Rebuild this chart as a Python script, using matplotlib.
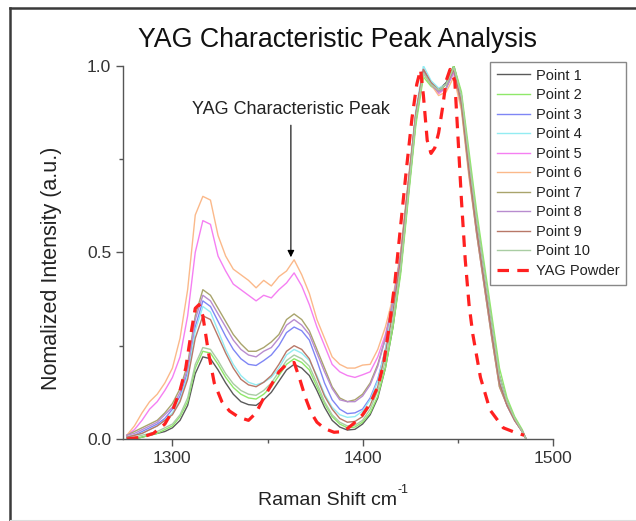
import matplotlib
matplotlib.use("Agg")
import matplotlib.pyplot as plt
from matplotlib.lines import Line2D

plt.rcParams['font.family'] = ['Liberation Sans', 'DejaVu Sans']

# ---------------- data ----------------
shift = [1276, 1280, 1284, 1288, 1292, 1296, 1300, 1304, 1308, 1312, 1316, 1320, 1324, 1328,
         1332, 1336, 1340, 1344, 1348, 1352, 1356, 1360, 1364, 1368, 1372, 1376, 1380, 1384,
         1388, 1392, 1396, 1400, 1404, 1408, 1412, 1416, 1420, 1424, 1428, 1432, 1436, 1440,
         1444, 1448, 1452, 1456, 1460, 1464, 1468, 1472, 1476, 1480, 1484, 1486]

point1 = [0.0, 0.0, 0.005, 0.01, 0.015, 0.02, 0.03, 0.05, 0.09, 0.175, 0.22, 0.215, 0.185, 0.15,
          0.12, 0.10, 0.092, 0.09, 0.105, 0.125, 0.155, 0.185, 0.20, 0.19, 0.17, 0.13, 0.085, 0.05,
          0.032, 0.024, 0.026, 0.04, 0.065, 0.11, 0.19, 0.30, 0.45, 0.65, 0.85, 0.98, 0.95, 0.935,
          0.955, 1.0, 0.92, 0.75, 0.59, 0.45, 0.31, 0.17, 0.10, 0.055, 0.02, 0.0]
point2 = [0.0, 0.0, 0.005, 0.01, 0.015, 0.025, 0.035, 0.06, 0.10, 0.19, 0.235, 0.23, 0.20, 0.165,
          0.138, 0.12, 0.11, 0.107, 0.12, 0.14, 0.17, 0.20, 0.215, 0.205, 0.185, 0.14, 0.095, 0.06,
          0.04, 0.03, 0.032, 0.045, 0.07, 0.115, 0.19, 0.30, 0.44, 0.64, 0.84, 0.97, 0.945, 0.93,
          0.95, 1.0, 0.93, 0.77, 0.61, 0.47, 0.33, 0.19, 0.11, 0.06, 0.025, 0.0]
point3 = [0.005, 0.01, 0.02, 0.03, 0.04, 0.055, 0.08, 0.115, 0.18, 0.30, 0.37, 0.355, 0.315, 0.275,
          0.24, 0.215, 0.20, 0.197, 0.21, 0.225, 0.25, 0.285, 0.30, 0.29, 0.265, 0.21, 0.15, 0.105,
          0.08, 0.068, 0.07, 0.08, 0.11, 0.16, 0.24, 0.35, 0.48, 0.68, 0.87, 0.99, 0.955, 0.935,
          0.95, 0.99, 0.90, 0.72, 0.56, 0.42, 0.28, 0.15, 0.09, 0.05, 0.02, 0.0]
point4 = [0.005, 0.01, 0.015, 0.025, 0.035, 0.05, 0.07, 0.105, 0.17, 0.29, 0.355, 0.34, 0.29, 0.24,
          0.20, 0.17, 0.152, 0.145, 0.152, 0.165, 0.19, 0.225, 0.24, 0.23, 0.21, 0.17, 0.12, 0.085,
          0.065, 0.058, 0.06, 0.075, 0.105, 0.155, 0.24, 0.35, 0.49, 0.69, 0.88, 1.0, 0.96, 0.94,
          0.95, 0.99, 0.90, 0.72, 0.56, 0.42, 0.28, 0.15, 0.09, 0.05, 0.02, 0.0]
point5 = [0.01, 0.025, 0.05, 0.08, 0.10, 0.13, 0.165, 0.22, 0.33, 0.50, 0.585, 0.575, 0.49, 0.45,
          0.415, 0.40, 0.385, 0.37, 0.385, 0.378, 0.40, 0.418, 0.445, 0.41, 0.36, 0.30, 0.25, 0.20,
          0.18, 0.17, 0.165, 0.172, 0.18, 0.22, 0.28, 0.37, 0.49, 0.68, 0.87, 0.99, 0.95, 0.925,
          0.94, 0.98, 0.89, 0.71, 0.55, 0.41, 0.27, 0.14, 0.09, 0.05, 0.02, 0.0]
point6 = [0.01, 0.035, 0.07, 0.10, 0.12, 0.15, 0.19, 0.27, 0.40, 0.60, 0.65, 0.64, 0.545, 0.49,
          0.455, 0.44, 0.425, 0.405, 0.425, 0.41, 0.435, 0.45, 0.48, 0.44, 0.39, 0.32, 0.27, 0.22,
          0.20, 0.19, 0.19, 0.198, 0.20, 0.24, 0.30, 0.38, 0.50, 0.69, 0.87, 0.98, 0.95, 0.92,
          0.93, 0.97, 0.88, 0.70, 0.55, 0.41, 0.27, 0.14, 0.09, 0.05, 0.02, 0.0]
point7 = [0.01, 0.02, 0.03, 0.04, 0.05, 0.07, 0.095, 0.135, 0.20, 0.33, 0.40, 0.385, 0.35, 0.315,
          0.28, 0.255, 0.235, 0.235, 0.245, 0.26, 0.28, 0.32, 0.335, 0.32, 0.29, 0.24, 0.19, 0.14,
          0.11, 0.10, 0.105, 0.12, 0.15, 0.20, 0.27, 0.37, 0.49, 0.68, 0.87, 0.99, 0.95, 0.93,
          0.94, 0.99, 0.89, 0.71, 0.55, 0.41, 0.27, 0.14, 0.09, 0.05, 0.02, 0.0]
point8 = [0.01, 0.015, 0.025, 0.035, 0.045, 0.065, 0.085, 0.125, 0.19, 0.32, 0.385, 0.37, 0.335, 0.30,
          0.265, 0.24, 0.225, 0.22, 0.235, 0.245, 0.27, 0.305, 0.32, 0.305, 0.28, 0.23, 0.18, 0.135,
          0.105, 0.10, 0.10, 0.115, 0.145, 0.195, 0.27, 0.37, 0.49, 0.68, 0.87, 0.985, 0.95, 0.93,
          0.94, 0.985, 0.90, 0.72, 0.56, 0.42, 0.28, 0.15, 0.09, 0.05, 0.02, 0.0]
point9 = [0.005, 0.01, 0.015, 0.025, 0.035, 0.05, 0.065, 0.10, 0.16, 0.27, 0.33, 0.32, 0.275, 0.23,
          0.19, 0.16, 0.145, 0.14, 0.152, 0.17, 0.20, 0.235, 0.25, 0.24, 0.215, 0.165, 0.115, 0.08,
          0.055, 0.045, 0.047, 0.06, 0.09, 0.14, 0.23, 0.34, 0.48, 0.68, 0.87, 0.99, 0.955, 0.935,
          0.95, 0.99, 0.90, 0.72, 0.56, 0.42, 0.28, 0.15, 0.09, 0.05, 0.02, 0.0]
point10 = [0.0, 0.005, 0.01, 0.015, 0.02, 0.03, 0.04, 0.065, 0.11, 0.20, 0.245, 0.24, 0.21, 0.175,
           0.148, 0.13, 0.12, 0.117, 0.13, 0.15, 0.18, 0.21, 0.225, 0.215, 0.195, 0.15, 0.10, 0.065,
           0.045, 0.035, 0.037, 0.05, 0.08, 0.13, 0.21, 0.32, 0.46, 0.66, 0.86, 0.98, 0.95, 0.935,
           0.95, 0.995, 0.92, 0.75, 0.59, 0.45, 0.31, 0.17, 0.10, 0.055, 0.02, 0.0]

powder_shift = [1276, 1284, 1290, 1296, 1300, 1304, 1307, 1310, 1312, 1314, 1316, 1319, 1322, 1326,
                1330, 1335, 1340, 1344, 1348, 1352, 1356, 1360, 1364, 1367, 1370, 1373, 1376, 1380,
                1385, 1390, 1395, 1400, 1404, 1408, 1411, 1414, 1417, 1420, 1423, 1426, 1428.5, 1430.5,
                1432, 1434, 1436, 1438, 1440, 1442, 1444, 1446, 1448.5, 1450.5, 1452, 1454, 1456, 1458,
                1462, 1467, 1474, 1480, 1485]
powder = [0.0, 0.005, 0.015, 0.04, 0.075, 0.13, 0.19, 0.29, 0.35, 0.36, 0.33, 0.23, 0.15, 0.10,
          0.075, 0.058, 0.05, 0.07, 0.11, 0.145, 0.18, 0.20, 0.205, 0.16, 0.11, 0.07, 0.045, 0.028,
          0.018, 0.02, 0.04, 0.065, 0.095, 0.14, 0.20, 0.30, 0.42, 0.57, 0.72, 0.86, 0.95, 0.99,
          0.92, 0.80, 0.765, 0.78, 0.82, 0.885, 0.96, 0.99, 0.96, 0.78, 0.64, 0.48, 0.36, 0.28,
          0.165, 0.078, 0.03, 0.018, 0.01]

series = [("Point 1", point1, "#5a5a5a"),
          ("Point 2", point2, "#8fe86a"),
          ("Point 3", point3, "#7f86f5"),
          ("Point 4", point4, "#93ecf2"),
          ("Point 5", point5, "#f57ff2"),
          ("Point 6", point6, "#fbb98a"),
          ("Point 7", point7, "#a9a46c"),
          ("Point 8", point8, "#b88ccf"),
          ("Point 9", point9, "#b87868"),
          ("Point 10", point10, "#a9cda3")]

# ---------------- figure ----------------
W, H = 636, 521
fig = plt.figure(figsize=(W / 100, H / 100), dpi=100)
fig.patch.set_facecolor("white")

ax = fig.add_axes([123 / W, 1 - 439 / H, (552.7 - 123) / W, (439 - 65.7) / H])

for name, vals, col in series:
    ax.plot(shift, vals, color=col, lw=1.0, label=name)
ax.plot(powder_shift, powder, color="#ff2020", lw=2.3, dashes=(3.6, 2.6), label="YAG Powder")

ax.set_xlim(1274, 1500)
ax.set_ylim(0, 1.0)
ax.set_xticks([1300, 1400, 1500])
ax.set_xticks([1350, 1450], minor=True)
ax.set_yticks([0.0, 0.5, 1.0])
ax.set_yticklabels(["0.0", "0.5", "1.0"])
ax.set_yticks([0.25, 0.75], minor=True)
for s in ["top", "right"]:
    ax.spines[s].set_visible(False)
for s in ["left", "bottom"]:
    ax.spines[s].set_color("#555555")
    ax.spines[s].set_linewidth(1.0)
ax.tick_params(axis="both", which="major", direction="out", length=5, width=1,
               color="#555555", labelsize=12.5, labelcolor="#333333")
ax.tick_params(axis="both", which="minor", direction="out", length=3, width=1, color="#555555")
ax.patch.set_alpha(0)

ax.annotate("YAG Characteristic Peak", xy=(1362.3, 0.487), xytext=(1362.3, 0.882),
            ha="center", va="center", fontsize=13, color="#222222",
            arrowprops=dict(arrowstyle="-|>", color="black", lw=0.8, mutation_scale=10,
                            shrinkA=3, shrinkB=0))

leg = ax.legend(loc="upper left", bbox_to_anchor=(490 / W, 1 - 62 / H),
                bbox_transform=fig.transFigure, fontsize=10.5, frameon=True, fancybox=False,
                edgecolor="#888888", framealpha=1, borderpad=0.45, labelspacing=0.38,
                handlelength=2.3, handletextpad=0.4, borderaxespad=0)
leg.get_frame().set_linewidth(1.0)
for t in leg.get_texts():
    t.set_color("#222222")

fig.text(337 / W, 1 - 40 / H, "YAG Characteristic Peak Analysis", ha="center", va="center",
         fontsize=19.3, color="#111111")

# x label with a small raised "-1"
xl = fig.text(258 / W, 1 - 505 / H, "Raman Shift cm", ha="left", va="baseline",
              fontsize=14, color="#222222")
renderer = fig.canvas.get_renderer()
bb = xl.get_window_extent(renderer=renderer)
fig.text((bb.x1 + 1) / W, 1 - 493 / H, "-1", ha="left", va="baseline",
         fontsize=9, color="#222222")

fig.text(52 / W, 1 - 268 / H, "Nomalized Intensity (a.u.)", ha="center", va="center",
         rotation=90, fontsize=15.5, color="#222222")

# screenshot frame
fig.add_artist(Line2D([9.5 / W, 9.5 / W], [0, 1 - 7.5 / H], transform=fig.transFigure,
                      color="#3a3a3a", lw=1.8))
fig.add_artist(Line2D([9.5 / W, 1], [1 - 7.5 / H, 1 - 7.5 / H], transform=fig.transFigure,
                      color="#3a3a3a", lw=1.8))
fig.add_artist(Line2D([9.5 / W, 1], [1 - 520 / H, 1 - 520 / H], transform=fig.transFigure,
                      color="#dddddd", lw=0.8))

fig.savefig("out.png", dpi=100, facecolor="white")
